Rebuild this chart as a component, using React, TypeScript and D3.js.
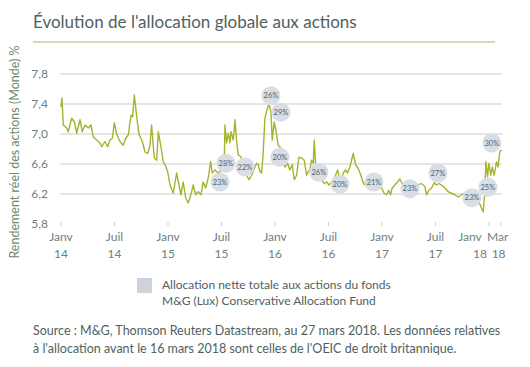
import React from 'react'
import * as d3 from 'd3'

// rendement réel des actions : [mois depuis janv 2014, valeur]
const yieldSeries: [number, number][] = [
  [0, 7.36], [0.1, 7.48], [0.26, 7.12], [0.64, 7.08], [0.82, 7.03], [1.2, 7.21], [1.5, 7.16], [1.76, 7.01],
  [2.13, 7.19], [2.39, 7.03], [2.69, 7.12], [3.06, 7.08], [3.36, 7.12], [3.62, 6.96], [4.0, 6.92], [4.37, 6.88],
  [4.56, 6.83], [4.93, 6.9], [5.23, 6.83], [5.49, 6.92], [5.75, 6.94], [5.98, 7.15], [6.24, 7.0], [6.61, 6.9],
  [6.98, 6.85], [7.25, 6.94], [7.55, 6.99], [7.85, 7.25], [8.03, 7.23], [8.22, 7.52], [8.49, 7.23], [8.74, 7.0],
  [9.12, 6.9], [9.42, 6.76], [9.72, 6.74], [9.98, 6.85], [10.16, 7.12], [10.46, 6.68], [10.73, 6.65], [10.91, 7.03],
  [11.21, 6.83], [11.47, 6.63], [11.66, 6.59], [11.96, 6.5], [12.22, 6.32], [12.59, 6.21], [12.97, 6.48], [13.23, 6.32],
  [13.45, 6.19], [13.71, 6.36], [13.98, 6.15], [14.27, 6.08], [14.57, 6.19], [14.83, 6.32], [15.1, 6.19], [15.39, 6.23],
  [15.7, 6.19], [15.95, 6.36], [16.22, 6.28], [16.51, 6.41], [16.78, 6.63], [16.96, 6.48], [17.26, 6.52], [17.64, 6.48],
  [18.0, 6.52], [18.3, 6.59], [18.39, 7.12], [18.57, 6.88], [18.76, 7.01], [18.95, 6.88], [19.06, 7.03], [19.32, 6.92],
  [19.51, 7.19], [19.7, 6.9], [19.88, 6.72], [20.18, 6.7], [20.55, 6.45], [20.82, 6.45], [21.08, 6.39], [21.38, 6.45],
  [21.67, 6.54], [21.94, 6.61], [22.12, 6.59], [22.31, 6.5], [22.5, 6.48], [22.68, 6.76], [22.87, 7.21], [23.17, 7.35],
  [23.32, 7.4], [23.54, 7.3], [23.69, 6.92], [23.91, 7.16], [24.1, 7.05], [24.36, 6.85], [24.55, 6.83], [24.74, 6.72],
  [25.11, 6.56], [25.41, 6.61], [25.67, 6.52], [25.93, 6.59], [26.16, 6.39], [26.42, 6.45], [26.68, 6.69], [26.98, 6.68],
  [27.28, 6.65], [27.54, 6.45], [27.73, 6.5], [27.91, 6.52], [28.1, 6.65], [28.29, 6.61], [28.4, 6.92], [28.55, 6.59],
  [28.85, 6.45], [29.22, 6.39], [29.52, 6.34], [29.79, 6.36], [30.04, 6.32], [30.35, 6.36], [30.72, 6.43], [31.02, 6.52],
  [31.17, 6.45], [31.47, 6.36], [31.65, 6.48], [31.92, 6.52], [32.14, 6.48], [32.4, 6.56], [32.77, 6.74], [33.04, 6.59],
  [33.33, 6.54], [33.63, 6.45], [33.89, 6.35], [34.08, 6.32], [34.45, 6.36], [34.83, 6.38], [35.2, 6.36], [35.57, 6.32],
  [35.95, 6.28], [36.24, 6.21], [36.51, 6.19], [36.75, 6.25], [36.95, 6.19], [37.14, 6.28], [37.44, 6.32], [37.75, 6.36],
  [38.0, 6.4], [38.26, 6.34], [38.57, 6.3], [38.93, 6.32], [39.31, 6.28], [39.69, 6.3], [40.06, 6.32], [40.36, 6.34],
  [40.62, 6.32], [40.81, 6.3], [41.0, 6.19], [41.26, 6.25], [41.56, 6.28], [41.85, 6.35], [42.12, 6.32], [42.38, 6.34],
  [42.68, 6.32], [43.05, 6.28], [43.42, 6.23], [43.8, 6.21], [44.17, 6.19], [44.54, 6.16], [44.92, 6.19], [45.21, 6.21],
  [45.48, 6.16], [45.85, 6.14], [46.22, 6.12], [46.6, 6.14], [46.86, 6.1], [47.09, 6.03], [47.35, 5.96], [47.53, 6.23],
  [47.65, 6.63], [47.84, 6.43], [47.98, 6.61], [48.2, 6.45], [48.35, 6.56], [48.58, 6.45], [48.84, 6.63], [49.02, 6.56],
  [49.2, 6.76], [49.4, 6.79],
]

// bulles : allocation nette aux actions du fonds
const bubbleMonths = [17.83, 18.5, 20.63, 23.54, 24.66, 24.55, 28.92, 31.28, 35.09, 39.13, 42.26, 46.08, 47.87, 48.32]
const bubbleValues = [6.36, 6.61, 6.56, 7.51, 7.29, 6.69, 6.49, 6.33, 6.36, 6.27, 6.48, 6.15, 6.29, 6.88]
const bubbleLabels = ['23%', '28%', '22%', '26%', '29%', '20%', '26%', '20%', '21%', '23%', '27%', '23%', '25%', '30%']

const yTicks = [5.8, 6.2, 6.6, 7.0, 7.4, 7.8]
const xTickMonths = [0, 6, 12, 18, 24, 30, 36, 42, 48, 49.3]
const xTickTop = ['Janv', 'Juil', 'Janv', 'Juil', 'Janv', 'Juil', 'Janv', 'Juil', 'Janv', 'Mar']
const xTickBottom = ['14', '14', '15', '15', '16', '16', '17', '17', '18', '18']

const title = "Évolution de l'allocation globale aux actions"
const yLabel = 'Rendement réel des actions (Monde) %'
const legendLines = ['Allocation nette totale aux actions du fonds', 'M&G (Lux) Conservative Allocation Fund']
const sourceLines = [
  'Source : M&G, Thomson Reuters Datastream, au 27 mars 2018. Les données relatives',
  "à l'allocation avant le 16 mars 2018 sont celles de l'OEIC de droit britannique.",
]

const width = 530
const height = 367
const font = 'Lato, "Open Sans", sans-serif'
const textColor = '#4f6161'
const axisColor = '#6f7f7f'
const lineColor = '#a6b22c'
const bubbleColor = '#d9dee4'

export default function App() {
  const x = d3.scaleLinear().domain([0, 49.4]).range([61, 501.5])
  const y = d3.scaleLinear().domain([5.8, 7.8]).range([224, 74])

  const lineGen = d3.line<[number, number]>()
    .x(d => x(d[0]))
    .y(d => y(d[1]))

  const fmt = (v: number) => d3.format('.1f')(v).replace('.', ',')

  return (
    <svg width={width} height={height} style={{ position: 'absolute', left: 0, top: 0, background: '#fff' }}
      fontFamily={font}>
      <text x={33} y={28} fontSize={17} fill={textColor}>{title}</text>
      <line x1={33} x2={495} y1={42} y2={42} stroke="#c9cf9c" strokeWidth={1.5} />

      {yTicks.filter(t => t > 5.8).map(t => (
        <line key={'g' + t} x1={60} x2={502} y1={y(t)} y2={y(t)} stroke="#dedede" strokeWidth={1.5} />
      ))}
      {yTicks.map(t => (
        <text key={'y' + t} x={48} y={y(t)} dy="0.35em" textAnchor="end" fontSize={12} fill={axisColor}>{fmt(t)}</text>
      ))}

      {xTickMonths.map((m, i) => {
        const last = i === xTickMonths.length - 1
        const crowded = i === xTickMonths.length - 2
        const tx = x(m)
        return (
          <g key={'x' + i}>
            <line x1={tx} x2={tx} y1={222} y2={226} stroke="#cfcfcf" strokeWidth={1} />
            <text x={crowded ? tx - 19 : last ? tx - 3 : tx} y={241} textAnchor="middle" fontSize={12} fill={axisColor}>{xTickTop[i]}</text>
            <text x={crowded ? tx - 9 : last ? tx - 2 : tx} y={258} textAnchor="middle" fontSize={12} fill={axisColor}>{xTickBottom[i]}</text>
          </g>
        )
      })}

      <text transform={`translate(19,152) rotate(-90)`} textAnchor="middle" fontSize={12.5} fill="#6a8a6e">{yLabel}</text>

      <path d={lineGen(yieldSeries) || ''} fill="none" stroke={lineColor} strokeWidth={1.4} strokeLinejoin="round" />

      {bubbleMonths.map((m, i) => (
        <g key={'b' + i}>
          <circle cx={x(m)} cy={y(bubbleValues[i])} r={9.5} fill={bubbleColor} />
          <text x={x(m)} y={y(bubbleValues[i])} dy="0.35em" textAnchor="middle" fontSize={7.5} fill="#4d6275">{bubbleLabels[i]}</text>
        </g>
      ))}

      <rect x={137} y={278} width={15} height={15} fill="#cdd3da" />
      {legendLines.map((l, i) => (
        <text key={'l' + i} x={162} y={289 + i * 16} fontSize={12} fill={textColor}>{l}</text>
      ))}

      {sourceLines.map((l, i) => (
        <text key={'s' + i} x={33} y={335 + i * 18} fontSize={12.5} fill={textColor}>{l}</text>
      ))}
    </svg>
  )
}
